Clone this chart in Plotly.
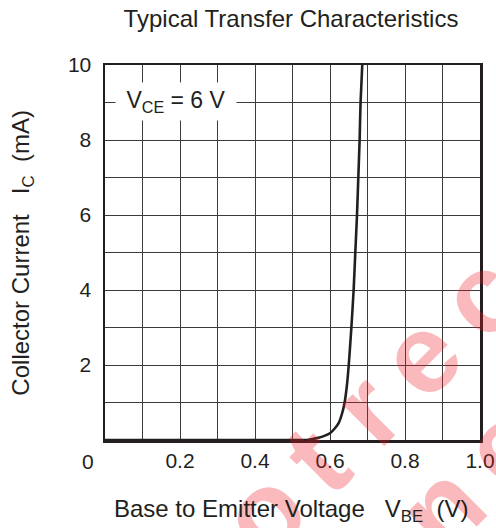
import plotly.graph_objects as go

# Data
vbe = [0.0, 0.50, 0.538, 0.565, 0.585, 0.600, 0.612, 0.623, 0.632, 0.639,
       0.645, 0.650, 0.657, 0.663, 0.6675, 0.672, 0.6755, 0.679, 0.6815, 0.686]
ic = [0.0, 0.0, 0.0, 0.05, 0.11, 0.18, 0.30, 0.45, 0.70, 1.0,
      1.45, 2.0, 3.0, 4.0, 5.0, 6.0, 7.0, 8.0, 9.0, 10.0]

x_tickvals = [0.2, 0.4, 0.6, 0.8, 1.0]
x_ticktext = ["0.2", "0.4", "0.6", "0.8", "1.0"]
y_tickvals = [2, 4, 6, 8, 10]
y_ticktext = ["2", "4", "6", "8", "10"]

ink = "#231f20"
font_family = "Liberation Sans, Arial, sans-serif"
fs = 21      # tick labels
fs_t = 24    # titles / labels
nb = "\u00a0"
ts = "\u2009"

fig = go.Figure()
fig.add_trace(go.Scatter(
    x=vbe, y=ic, mode="lines",
    line=dict(color=ink, width=2.6, shape="spline", smoothing=0.6),
    hoverinfo="skip", showlegend=False, cliponaxis=True,
))

grid_color = "#3c3c3c"
fig.update_xaxes(
    range=[0, 1.0], tickvals=x_tickvals, ticktext=x_ticktext,
    showgrid=True, gridcolor=grid_color, gridwidth=1,
    minor=dict(dtick=0.1, showgrid=True, gridcolor=grid_color, gridwidth=1, tick0=0),
    showline=True, linecolor=ink, linewidth=2.5, mirror=True,
    ticks="", ticklabelstandoff=0, automargin=False,
    tickfont=dict(size=fs, color=ink, family=font_family),
    zeroline=False,
)
fig.update_yaxes(
    range=[0, 10], tickvals=y_tickvals, ticktext=y_ticktext,
    showgrid=True, gridcolor=grid_color, gridwidth=1,
    minor=dict(dtick=1, showgrid=True, gridcolor=grid_color, gridwidth=1, tick0=0),
    showline=True, linecolor=ink, linewidth=2.5, mirror=True,
    ticks="", ticklabelstandoff=7, automargin=False,
    tickfont=dict(size=fs, color=ink, family=font_family),
    zeroline=False,
)

wm_color = "rgba(237,28,36,0.30)"
wm1 = ts.join("Not") + " " + ts.join("recommended")
wm2 = ts.join("for") + " " + ts.join("new") + " " + ts.join("design")

annotations = [
    # watermark (drawn first)
    dict(text="<b>" + wm1 + "</b>", xref="paper", yref="paper",
         x=1.342, y=0.728, xanchor="center", yanchor="middle", showarrow=False,
         textangle=-45,
         font=dict(size=112, color=wm_color, family=font_family)),
    dict(text="<b>" + wm2 + "</b>", xref="paper", yref="paper",
         x=1.342, y=0.266, xanchor="center", yanchor="middle", showarrow=False,
         textangle=-45,
         font=dict(size=112, color=wm_color, family=font_family)),
    dict(text="0", xref="paper", yref="paper", x=-0.045, y=-0.058,
         xanchor="center", yanchor="middle", showarrow=False,
         font=dict(size=fs, color=ink, family=font_family)),
    dict(text="V<sub>CE</sub> = 6 V", xref="x", yref="y", x=0.189, y=9.04,
         xanchor="center", yanchor="middle", showarrow=False,
         bgcolor="white", borderpad=0, width=120, height=37,
         font=dict(size=fs_t - 1, color=ink, family=font_family)),
    dict(text="Base to Emitter Voltage" + nb * 3 + "V<sub>BE</sub>" + nb * 2 + "(V)",
         xref="paper", yref="paper", x=0.496, y=-0.187,
         xanchor="center", yanchor="middle", showarrow=False,
         font=dict(size=fs_t, color=ink, family=font_family)),
    dict(text="Collector Current" + nb * 3 + "I<sub>C</sub>" + nb * 2 + "(mA)",
         xref="paper", yref="paper", x=-0.221, y=0.50,
         xanchor="center", yanchor="middle", showarrow=False, textangle=-90,
         font=dict(size=fs_t, color=ink, family=font_family)),
]

fig.update_layout(
    width=496, height=528,
    margin=dict(l=105, r=16, t=65, b=88),
    paper_bgcolor="white", plot_bgcolor="white",
    title=dict(text="Typical Transfer Characteristics", x=0.5867, xanchor="center",
               y=0.964, yanchor="middle",
               font=dict(size=fs_t, color=ink, family=font_family)),
    annotations=annotations,
    showlegend=False,
)

fig.write_html(
    "out.html",
    config={"displayModeBar": False, "staticPlot": True},
    post_script="document.body.style.margin='0';document.body.style.overflow='hidden';",
)
